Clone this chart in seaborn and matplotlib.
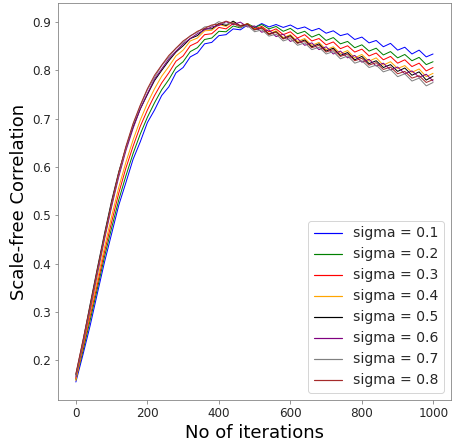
import matplotlib
matplotlib.use("Agg")
import matplotlib.pyplot as plt
from matplotlib.lines import Line2D
import seaborn as sns

# ---------------------------------------------------------------- data ----
# values, one point every 20 iterations
iterations = list(range(0, 1000, 20)) + [999]

sigma_labels = ["sigma = 0.1", "sigma = 0.2", "sigma = 0.3", "sigma = 0.4",
                "sigma = 0.5", "sigma = 0.6", "sigma = 0.7", "sigma = 0.8"]
line_colors = ["blue", "green", "red", "orange", "black", "purple", "gray", "brown"]

sigma_01 = [0.155, 0.212, 0.272, 0.338, 0.403, 0.462, 0.521, 0.568, 0.616, 0.652,
            0.692, 0.718, 0.748, 0.766, 0.795, 0.806, 0.828, 0.836, 0.855, 0.858,
            0.872, 0.874, 0.886, 0.884, 0.894, 0.889, 0.897, 0.890, 0.895, 0.889,
            0.894, 0.886, 0.890, 0.882, 0.887, 0.877, 0.882, 0.872, 0.876, 0.864,
            0.869, 0.857, 0.862, 0.849, 0.856, 0.842, 0.848, 0.834, 0.842, 0.828,
            0.834]
sigma_02 = [0.160, 0.220, 0.283, 0.348, 0.414, 0.474, 0.532, 0.582, 0.628, 0.668,
            0.703, 0.733, 0.760, 0.781, 0.806, 0.818, 0.839, 0.847, 0.864, 0.867,
            0.881, 0.880, 0.892, 0.888, 0.897, 0.889, 0.895, 0.886, 0.891, 0.881,
            0.887, 0.876, 0.881, 0.869, 0.875, 0.862, 0.868, 0.855, 0.860, 0.847,
            0.853, 0.840, 0.846, 0.832, 0.839, 0.826, 0.833, 0.820, 0.827, 0.812,
            0.818]
sigma_03 = [0.162, 0.226, 0.292, 0.357, 0.424, 0.486, 0.546, 0.598, 0.643, 0.684,
            0.718, 0.748, 0.774, 0.795, 0.819, 0.830, 0.851, 0.858, 0.874, 0.876,
            0.889, 0.886, 0.897, 0.890, 0.896, 0.886, 0.891, 0.880, 0.886, 0.874,
            0.880, 0.867, 0.874, 0.861, 0.866, 0.853, 0.859, 0.845, 0.851, 0.838,
            0.844, 0.830, 0.836, 0.822, 0.829, 0.815, 0.822, 0.808, 0.815, 0.799,
            0.806]
sigma_04 = [0.158, 0.230, 0.298, 0.366, 0.434, 0.498, 0.558, 0.610, 0.656, 0.697,
            0.732, 0.762, 0.788, 0.808, 0.830, 0.842, 0.861, 0.867, 0.882, 0.883,
            0.895, 0.891, 0.901, 0.892, 0.897, 0.885, 0.889, 0.876, 0.882, 0.868,
            0.874, 0.860, 0.866, 0.852, 0.858, 0.843, 0.849, 0.835, 0.841, 0.826,
            0.833, 0.819, 0.826, 0.811, 0.818, 0.804, 0.810, 0.796, 0.803, 0.787,
            0.794]
sigma_05 = [0.170, 0.240, 0.316, 0.390, 0.462, 0.530, 0.590, 0.640, 0.683, 0.720,
            0.750, 0.779, 0.800, 0.820, 0.838, 0.851, 0.866, 0.872, 0.886, 0.886,
            0.897, 0.893, 0.902, 0.892, 0.896, 0.884, 0.888, 0.875, 0.880, 0.866,
            0.872, 0.857, 0.863, 0.849, 0.855, 0.840, 0.846, 0.831, 0.837, 0.822,
            0.829, 0.814, 0.820, 0.806, 0.812, 0.798, 0.805, 0.790, 0.797, 0.780,
            0.788]
sigma_06 = [0.165, 0.234, 0.305, 0.378, 0.450, 0.518, 0.580, 0.634, 0.680, 0.720,
            0.752, 0.782, 0.803, 0.824, 0.840, 0.855, 0.866, 0.876, 0.884, 0.890,
            0.893, 0.901, 0.895, 0.900, 0.890, 0.892, 0.879, 0.884, 0.870, 0.875,
            0.860, 0.866, 0.852, 0.857, 0.843, 0.849, 0.834, 0.840, 0.826, 0.831,
            0.817, 0.823, 0.809, 0.815, 0.801, 0.807, 0.793, 0.799, 0.786, 0.792,
            0.778]
sigma_07 = [0.168, 0.238, 0.310, 0.384, 0.456, 0.524, 0.586, 0.640, 0.688, 0.726,
            0.760, 0.786, 0.810, 0.828, 0.846, 0.858, 0.872, 0.879, 0.890, 0.892,
            0.901, 0.895, 0.899, 0.889, 0.893, 0.880, 0.884, 0.871, 0.875, 0.861,
            0.866, 0.852, 0.857, 0.843, 0.848, 0.834, 0.839, 0.824, 0.830, 0.815,
            0.820, 0.806, 0.811, 0.797, 0.802, 0.787, 0.793, 0.778, 0.784, 0.768,
            0.775]
sigma_08 = [0.172, 0.242, 0.312, 0.386, 0.457, 0.525, 0.588, 0.643, 0.690, 0.728,
            0.762, 0.790, 0.811, 0.831, 0.846, 0.861, 0.871, 0.881, 0.887, 0.894,
            0.896, 0.902, 0.897, 0.893, 0.896, 0.884, 0.888, 0.874, 0.879, 0.865,
            0.870, 0.856, 0.861, 0.847, 0.852, 0.838, 0.843, 0.829, 0.834, 0.820,
            0.825, 0.811, 0.816, 0.802, 0.807, 0.793, 0.798, 0.784, 0.789, 0.775,
            0.781]

all_series = [sigma_01, sigma_02, sigma_03, sigma_04,
              sigma_05, sigma_06, sigma_07, sigma_08]

# --------------------------------------------------------------- style ----
sns.set_style("ticks", {"axes.edgecolor": "gray",
                        "xtick.color": "gray", "ytick.color": "gray"})
plt.rcParams["font.family"] = ["DejaVu Sans"]

fig, ax = plt.subplots(figsize=(455 / 72, 443 / 72), dpi=72)
fig.subplots_adjust(left=0.1275, right=0.991, bottom=0.097, top=0.993)

for vals, col in zip(all_series, line_colors):
    sns.lineplot(x=iterations, y=vals, color=col, linewidth=1.0, ax=ax, legend=False)

ax.set_xlabel("No of iterations", fontsize=18, color="black")
ax.set_ylabel("Scale-free Correlation", fontsize=18, color="black")
ax.tick_params(labelsize=12, labelcolor="#262626")
ax.set_xticks([0, 200, 400, 600, 800, 1000])
ax.set_yticks([0.2, 0.3, 0.4, 0.5, 0.6, 0.7, 0.8, 0.9])

handles = [Line2D([], [], color=c, lw=1.2) for c in line_colors]
ax.legend(handles=handles, labels=sigma_labels, loc="lower right", fontsize=14)

fig.savefig("out.png", dpi=72)
